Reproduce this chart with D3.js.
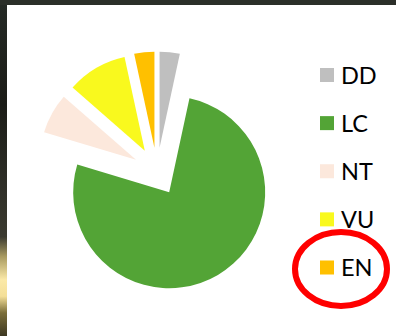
<!DOCTYPE html>
<html>
<head>
<meta charset="utf-8">
<script src="https://cdn.jsdelivr.net/npm/d3@7"></script>
<style>
  html, body { margin: 0; padding: 0; background: #2b2f29; }
  svg { display: block; }
</style>
</head>
<body>
<svg id="chart" width="396" height="336"></svg>
<script>
// Species counts per IUCN Red List category
const categories = ["DD", "LC", "NT", "VU", "EN"];
const counts = [2, 45, 4, 6, 2];
const palette = ["#BFBFBF", "#53A436", "#FCE8DC", "#F9F91E", "#FFC000"];

const W = 396, H = 336;
const svg = d3.select("#chart");

// Dark frame around the white chart panel
const defs = svg.append("defs");
const glow = defs.append("linearGradient")
  .attr("id", "edgeGlow").attr("x1", 0).attr("y1", 0).attr("x2", 0).attr("y2", 1);
[[0, "#252a25"], [0.3, "#1b1c17"], [0.55, "#2f2f28"], [0.7, "#3b3a30"],
 [0.76, "#a89a60"], [0.83, "#fbe9a8"], [0.88, "#f4df98"], [0.93, "#7b6e3a"], [1, "#3d3822"]]
  .forEach(([o, c]) => glow.append("stop").attr("offset", o).attr("stop-color", c));

svg.append("rect").attr("width", W).attr("height", H).attr("fill", "#2b2f29");
svg.append("rect").attr("x", 0).attr("y", 5).attr("width", 7).attr("height", H - 5)
  .attr("fill", "url(#edgeGlow)");
svg.append("rect").attr("x", 7).attr("y", 5).attr("width", W - 7).attr("height", H - 5)
  .attr("fill", "#ffffff");

const color = d3.scaleOrdinal().domain(categories).range(palette);

// Exploded pie
const cx = 157, cy = 171.5, radius = 96, explode = 24;
const pie = d3.pie().sort(null).value(d => d.value);
const arc = d3.arc().innerRadius(0).outerRadius(radius);
const data = categories.map((c, i) => ({ key: c, value: counts[i] }));

svg.append("g").attr("transform", `translate(${cx},${cy})`)
  .selectAll("path")
  .data(pie(data))
  .join("path")
  .attr("d", arc)
  .attr("fill", d => color(d.data.key))
  .attr("transform", d => {
    const a = (d.startAngle + d.endAngle) / 2;
    return `translate(${Math.sin(a) * explode},${-Math.cos(a) * explode})`;
  });

// Legend
const legendY = d3.scalePoint().domain(categories).range([75, 267.5]);
const legend = svg.append("g");
const item = legend.selectAll("g").data(categories).join("g")
  .attr("transform", d => `translate(320,${legendY(d)})`);
item.append("rect").attr("x", 0).attr("y", -7).attr("width", 14).attr("height", 14)
  .attr("fill", d => color(d));
item.append("text").attr("x", 21).attr("y", 8.5)
  .attr("font-family", "Lato, 'Open Sans', sans-serif").attr("font-size", 23.5)
  .attr("fill", "#000").text(d => d);

// Highlight ring around the EN entry
svg.append("ellipse").attr("cx", 341).attr("cy", 269).attr("rx", 46).attr("ry", 37)
  .attr("fill", "none").attr("stroke", "#FF0000").attr("stroke-width", 6);
</script>
</body>
</html>
